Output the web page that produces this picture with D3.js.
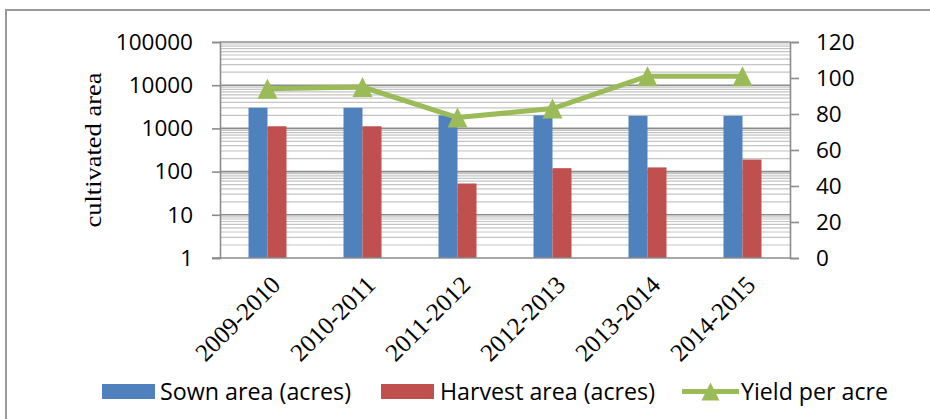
<!DOCTYPE html>
<html>
<head>
<meta charset="utf-8">
<script src="https://cdn.jsdelivr.net/npm/d3@7"></script>
<style>
  html, body { margin: 0; padding: 0; background: #fff; }
  svg { display: block; }
  .serif { font-family: "Liberation Serif", "DejaVu Serif", "Times New Roman", serif; }
</style>
</head>
<body>
<svg id="chart" width="930" height="419"></svg>
<script>
// ---- data ----
const categories = ["2009-2010", "2010-2011", "2011-2012", "2012-2013", "2013-2014", "2014-2015"];
const sownArea = [3000, 3000, 2000, 2000, 1950, 1950];
const harvestArea = [1120, 1120, 53, 120, 125, 190];
const yieldPerAcre = [94, 95, 78, 83, 101, 101];
const leftTicks = [1, 10, 100, 1000, 10000, 100000];
const rightTicks = [0, 20, 40, 60, 80, 100, 120];
const seriesNames = ["Sown area (acres)", "Harvest area (acres)", "Yield per acre"];
const colors = { sown: "#4F81BD", harvest: "#C0504D", yield: "#9BBB59" };

// ---- layout ----
const W = 930, H = 419;
const plot = { left: 220, right: 790, top: 42, bottom: 258 };
const svg = d3.select("#chart");

svg.append("rect").attr("x", 0).attr("y", 0).attr("width", W).attr("height", H).attr("fill", "#fff");
svg.append("rect").attr("x", 6).attr("y", 10).attr("width", 1000).attr("height", 1000)
  .attr("fill", "none").attr("stroke", "#9a9a9a").attr("stroke-width", 2);

const x = d3.scaleBand().domain(categories).range([plot.left, plot.right]).paddingInner(0).paddingOuter(0);
const yL = d3.scaleLog().domain([1, 100000]).range([plot.bottom, plot.top]);
const yR = d3.scaleLinear().domain([0, 120]).range([plot.bottom, plot.top]);
const barW = x.bandwidth() * 0.2;

// gridlines
const minors = [];
leftTicks.slice(0, -1).forEach(d => { for (let k = 2; k <= 9; k++) minors.push(d * k); });
svg.append("g").selectAll("line").data(minors).join("line")
  .attr("x1", plot.left).attr("x2", plot.right)
  .attr("y1", d => yL(d)).attr("y2", d => yL(d))
  .attr("stroke", "#c4c4c4").attr("stroke-width", 1.2);
svg.append("g").selectAll("line").data(leftTicks.slice(1)).join("line")
  .attr("x1", plot.left).attr("x2", plot.right)
  .attr("y1", d => yL(d)).attr("y2", d => yL(d))
  .attr("stroke", "#8c8c8c").attr("stroke-width", 1.6);

// bars
const idx = d3.range(categories.length);
svg.append("g").selectAll("rect").data(idx).join("rect")
  .attr("x", i => x(categories[i]) + x.bandwidth() / 2 - barW)
  .attr("y", i => yL(sownArea[i]))
  .attr("width", barW)
  .attr("height", i => plot.bottom - yL(sownArea[i]))
  .attr("fill", colors.sown);
svg.append("g").selectAll("rect").data(idx).join("rect")
  .attr("x", i => x(categories[i]) + x.bandwidth() / 2)
  .attr("y", i => yL(harvestArea[i]))
  .attr("width", barW)
  .attr("height", i => plot.bottom - yL(harvestArea[i]))
  .attr("fill", colors.harvest);

// axes
const numFont = "'Open Sans', 'Noto Sans', sans-serif";
const axL = svg.append("g").attr("transform", `translate(${plot.left},0)`)
  .call(d3.axisLeft(yL).tickValues(leftTicks).tickFormat(d3.format("d")).tickSize(8).tickPadding(19));
const axR = svg.append("g").attr("transform", `translate(${plot.right},0)`)
  .call(d3.axisRight(yR).tickValues(rightTicks).tickSize(9).tickPadding(17));
[axL, axR].forEach(a => {
  a.select(".domain").attr("stroke", "#8c8c8c").attr("stroke-width", 1.6);
  a.selectAll(".tick line").attr("stroke", "#8c8c8c").attr("stroke-width", 1.6);
  a.selectAll(".tick text").attr("fill", "#000").style("font-family", numFont).style("font-size", "22.5px");
});
svg.append("line").attr("x1", plot.left - 8).attr("x2", plot.right)
  .attr("y1", plot.bottom).attr("y2", plot.bottom)
  .attr("stroke", "#8c8c8c").attr("stroke-width", 1.6);

// category labels
svg.append("g").selectAll("text").data(categories).join("text")
  .attr("class", "serif")
  .attr("transform", d => `translate(${x(d) + x.bandwidth() / 2 + 2},${plot.bottom + 16}) rotate(-45)`)
  .attr("text-anchor", "end")
  .attr("dy", "0.7em")
  .attr("textLength", 108).attr("lengthAdjust", "spacingAndGlyphs")
  .style("font-size", "25px")
  .text(d => d);

// y-axis title
svg.append("text")
  .attr("class", "serif")
  .attr("transform", `translate(101,150) rotate(-90)`)
  .attr("text-anchor", "middle")
  .attr("textLength", 155).attr("lengthAdjust", "spacingAndGlyphs")
  .style("font-size", "24px")
  .text("cultivated area");

// yield line
const line = d3.line().x((d, i) => x(categories[i]) + x.bandwidth() / 2).y(d => yR(d));
svg.append("path").datum(yieldPerAcre).attr("d", line)
  .attr("fill", "none").attr("stroke", colors.yield).attr("stroke-width", 5).attr("stroke-linejoin", "round");
const tri = (s) => `M0,${-s}L${s},${s}L${-s},${s}Z`;
svg.append("g").selectAll("path").data(yieldPerAcre).join("path")
  .attr("transform", (d, i) => `translate(${x(categories[i]) + x.bandwidth() / 2},${yR(d)})`)
  .attr("d", tri(10)).attr("fill", colors.yield);

// legend
const legFont = "'Open Sans', 'Noto Sans', sans-serif";
const leg = svg.append("g");
const legItems = [
  { name: seriesNames[0], type: "rect", color: colors.sown, kx: 102, tx: 160, tl: 191 },
  { name: seriesNames[1], type: "rect", color: colors.harvest, kx: 381, tx: 440, tl: 215 },
  { name: seriesNames[2], type: "line", color: colors.yield, kx: 682, tx: 741, tl: 147 }
];
legItems.forEach(it => {
  if (it.type === "rect") {
    leg.append("rect").attr("x", it.kx).attr("y", 384).attr("width", 53).attr("height", 15).attr("fill", it.color);
  } else {
    leg.append("line").attr("x1", it.kx).attr("x2", it.kx + 57).attr("y1", 391.5).attr("y2", 391.5)
      .attr("stroke", it.color).attr("stroke-width", 5);
    leg.append("path").attr("transform", `translate(${it.kx + 28.5},391.5)`).attr("d", tri(9)).attr("fill", it.color);
  }
  leg.append("text").attr("x", it.tx).attr("y", 391.5).attr("dy", "0.36em")
    .attr("textLength", it.tl).attr("lengthAdjust", "spacingAndGlyphs")
    .style("font-family", legFont).style("font-size", "23px").text(it.name);
});
</script>
</body>
</html>
